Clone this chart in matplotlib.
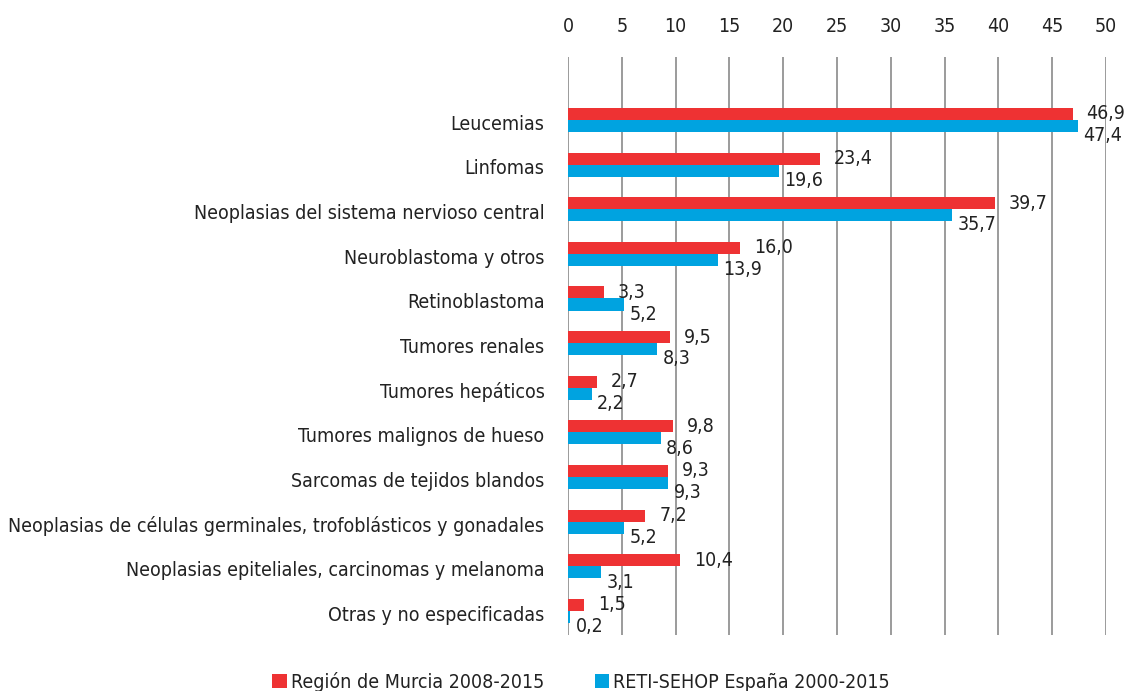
import matplotlib.pyplot as plt
import numpy as np

plt.rcParams['font.family'] = ['DejaVu Sans']
plt.rcParams['font.stretch'] = 'condensed'

categorias = ['Leucemias', 'Linfomas', 'Neoplasias del sistema nervioso central',
              'Neuroblastoma y otros', 'Retinoblastoma', 'Tumores renales',
              'Tumores hepáticos', 'Tumores malignos de hueso',
              'Sarcomas de tejidos blandos',
              'Neoplasias de células germinales, trofoblásticos y gonadales',
              'Neoplasias epiteliales, carcinomas y melanoma',
              'Otras y no especificadas']
murcia = [46.9, 23.4, 39.7, 16.0, 3.3, 9.5, 2.7, 9.8, 9.3, 7.2, 10.4, 1.5]
espana = [47.4, 19.6, 35.7, 13.9, 5.2, 8.3, 2.2, 8.6, 9.3, 5.2, 3.1, 0.2]
serie1 = 'Región de Murcia 2008-2015'
serie2 = 'RETI-SEHOP España 2000-2015'

rojo = '#EE3233'
azul = '#00A3E0'
texto = '#222222'

fig = plt.figure(figsize=(11.28, 6.91), dpi=100)
ax = fig.add_axes([568/1128, 1 - 635/691, 538/1128, 578/691])

y = np.arange(len(categorias))
h = 0.27
ax.barh(y - h/2, murcia, height=h, color=rojo, label=serie1, zorder=3)
ax.barh(y + h/2, espana, height=h, color=azul, label=serie2, zorder=3)

def fmt(v):
    return f'{v:.1f}'.replace('.', ',')

for i in range(len(categorias)):
    ax.annotate(fmt(murcia[i]), (murcia[i], y[i] - h/2), xytext=(10, 0),
                textcoords='offset points', va='center', ha='left', fontsize=14, color=texto)
    ax.annotate(fmt(espana[i]), (espana[i], y[i] + h/2), xytext=(4, -7),
                textcoords='offset points', va='center', ha='left', fontsize=14, color=texto)

ax.set_xlim(0, 50)
ax.set_ylim(11.54, -1.41)
ax.set_xticks(np.arange(0, 51, 5))
ax.xaxis.tick_top()
ax.tick_params(axis='x', length=0, pad=15, labelsize=14, labelcolor=texto)
ax.set_yticks(y + 0.05)
ax.set_yticklabels(categorias)
ax.tick_params(axis='y', length=0, pad=17, labelsize=14, labelcolor=texto)
ax.grid(axis='x', color='#8a8a8a', linewidth=1.2, zorder=0)
for s in ax.spines.values():
    s.set_visible(False)

fig.legend(loc='center', bbox_to_anchor=(0.515, 1 - 682/691), ncol=2, frameon=False,
           fontsize=14, handlelength=0.75, handleheight=0.75, handletextpad=0.2,
           columnspacing=2.6, labelcolor=texto)

fig.savefig('out.png', dpi=100)
